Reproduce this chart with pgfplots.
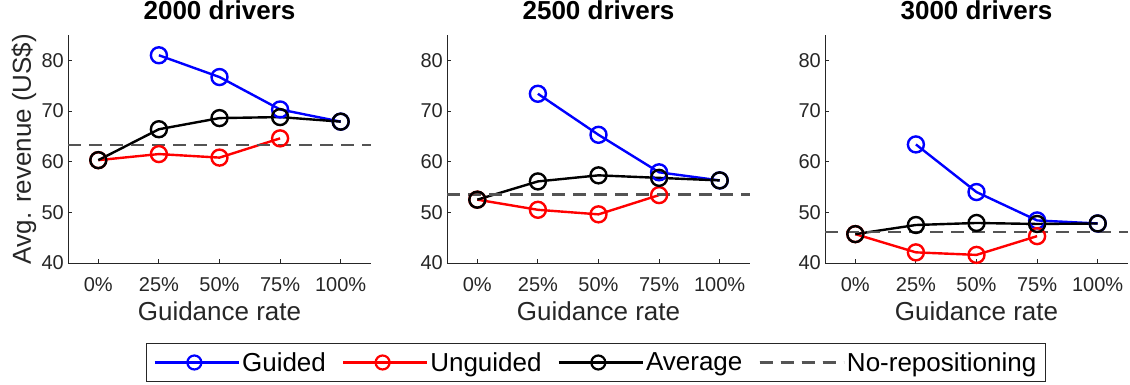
\documentclass[border=0pt]{standalone}
\usepackage{pgfplots}
\pgfplotsset{compat=1.18}
\usepackage{fontspec}
\setmainfont{Liberation Sans}
\definecolor{axgray}{rgb}{0.15,0.15,0.15}
\definecolor{dashgray}{rgb}{0.33,0.33,0.33}
\pgfplotsset{
  panel/.style={
    scale only axis, width=303pt, height=228pt, anchor=south west,
    xmin=-0.5, xmax=4.5, ymin=40, ymax=85,
    xtick={0,1,2,3,4}, xticklabels={0\%,25\%,50\%,75\%,100\%},
    ytick={40,50,60,70,80},
    axis x line*=bottom, axis y line*=left,
    axis line style={axgray, line width=0.9pt, -},
    tick style={axgray, line width=0.9pt},
    major tick length=4pt, tick align=inside,
    ticklabel style={text=axgray, font=\fontsize{20}{24}\selectfont},
    /pgf/number format/assume math mode=true,
    yticklabel style={anchor=east, inner xsep=0pt, xshift=-4pt},
    xticklabel style={anchor=base, yshift=-29pt},
    xlabel={Guidance rate},
    label style={text=axgray, font=\fontsize{26}{31}\selectfont},
    xlabel style={at={(axis description cs:0.5,0)}, anchor=base, yshift=-58pt},
    title style={font=\bfseries\fontsize{26}{31}\selectfont, at={(axis description cs:0.5,1)}, anchor=base, yshift=10pt},
    clip=false,
  },
  guided/.style={blue, line width=2.4pt, mark=o, mark size=8pt, mark options={solid}},
  unguided/.style={red, line width=2.4pt, mark=o, mark size=8pt, mark options={solid}},
  average/.style={black, line width=2.4pt, mark=o, mark size=8pt, mark options={solid}},
  norep/.style={dashgray, mark=none, line width=2.6pt, dash pattern=on 13pt off 8pt},
}
\begin{document}
\begin{tikzpicture}
\useasboundingbox (0,0) rectangle (1130pt,385pt);
% Panel 1
\begin{axis}[panel, at={(68pt,122pt)}, title={2000 drivers},
  ylabel={Avg. revenue (US\$)},
  ylabel style={at={(axis description cs:-0.145,0.5)}, anchor=center},
  legend columns=4,
  legend image code/.code={\path (0pt,0pt) -- (84pt,0pt);\draw[mark repeat=2, mark phase=2, #1, mark size=7pt, line width=2.2pt] plot coordinates {(0pt,0pt) (39.5pt,0pt) (79pt,0pt)};},
  legend style={at={(1.7426,-0.4364)}, anchor=center, draw=axgray, fill=white,
    font=\fontsize{26}{31}\selectfont, inner xsep=7pt, inner ysep=7pt,
    /tikz/every even column/.append style={column sep=14pt}},
]
\addplot[guided] coordinates {(1,81.0) (2,76.7) (3,70.3) (4,67.9)};
\addlegendentry{Guided}
\addplot[unguided] coordinates {(0,60.3) (1,61.5) (2,60.8) (3,64.6)};
\addlegendentry{Unguided}
\addplot[average] coordinates {(0,60.3) (1,66.4) (2,68.6) (3,68.8) (4,67.9)};
\addlegendentry{Average}
\addplot[norep] coordinates {(-0.5,63.3) (4.5,63.3)};
\addlegendentry{No-repositioning}
\end{axis}
% Panel 2
\begin{axis}[panel, at={(447pt,122pt)}, title={2500 drivers}]
\addplot[guided] coordinates {(1,73.4) (2,65.3) (3,57.9) (4,56.3)};
\addplot[unguided] coordinates {(0,52.5) (1,50.5) (2,49.6) (3,53.4)};
\addplot[average] coordinates {(0,52.5) (1,56.1) (2,57.3) (3,56.8) (4,56.3)};
\addplot[norep] coordinates {(-0.5,53.5) (4.5,53.5)};
\end{axis}
% Panel 3
\begin{axis}[panel, at={(825pt,122pt)}, title={3000 drivers}]
\addplot[guided] coordinates {(1,63.4) (2,54.0) (3,48.4) (4,47.8)};
\addplot[unguided] coordinates {(0,45.7) (1,42.1) (2,41.6) (3,45.3)};
\addplot[average] coordinates {(0,45.7) (1,47.5) (2,47.9) (3,47.7) (4,47.8)};
\addplot[norep] coordinates {(-0.5,46.1) (4.5,46.1)};
\end{axis}
\end{tikzpicture}
\end{document}
